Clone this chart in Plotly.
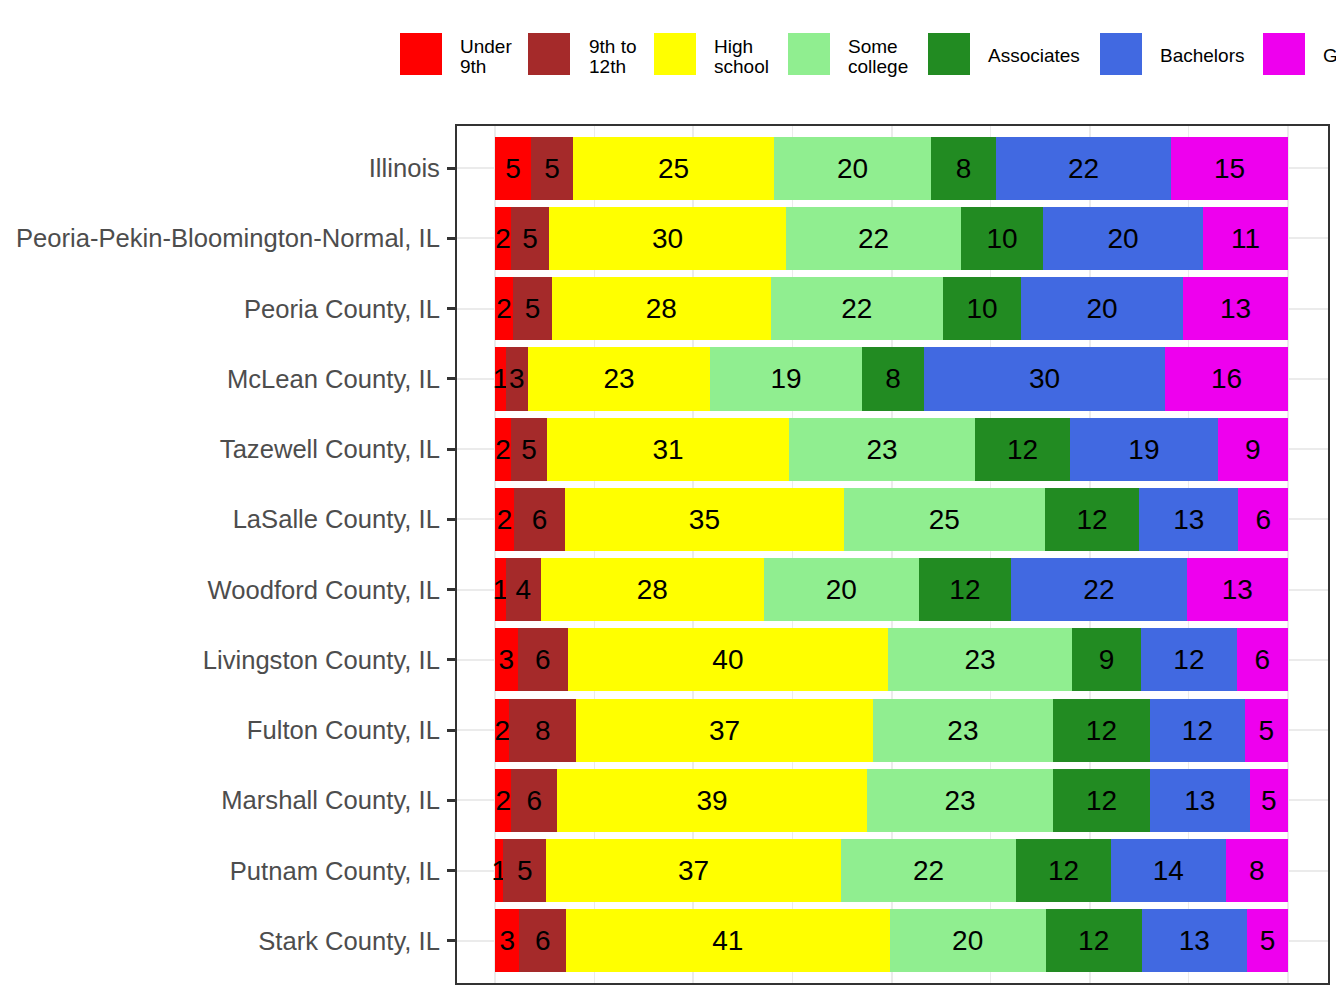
import plotly.graph_objects as go

# share of adults 25+ by highest education level (percent)
regions = [
    "Illinois",
    "Peoria-Pekin-Bloomington-Normal, IL",
    "Peoria County, IL",
    "McLean County, IL",
    "Tazewell County, IL",
    "LaSalle County, IL",
    "Woodford County, IL",
    "Livingston County, IL",
    "Fulton County, IL",
    "Marshall County, IL",
    "Putnam County, IL",
    "Stark County, IL",
]

under_9th = [4.54, 2.02, 2.27, 1.35, 2.02, 2.40, 1.35, 2.86, 1.80, 2.06, 1.05, 3.06]
ninth_12th = [5.30, 4.79, 4.92, 2.81, 4.54, 6.43, 4.45, 6.31, 8.41, 5.76, 5.38, 5.89]
high_school = [25.35, 29.89, 27.55, 22.95, 30.52, 35.14, 28.08, 40.39, 37.45, 39.09, 37.20, 40.82]
some_college = [19.80, 22.07, 21.76, 19.17, 23.46, 25.39, 19.58, 23.20, 22.70, 23.46, 22.07, 19.67]
associates = [8.20, 10.34, 9.84, 7.82, 11.98, 11.85, 11.60, 8.70, 12.23, 12.23, 11.98, 12.11]
bachelors = [22.07, 20.18, 20.43, 30.39, 18.63, 12.55, 22.19, 12.10, 11.98, 12.57, 14.46, 13.28]
graduate = [14.75, 10.72, 13.24, 15.51, 8.83, 6.25, 12.74, 6.43, 5.42, 4.83, 7.86, 5.17]

levels = ["Under\n9th", "9th to\n12th", "High\nschool", "Some\ncollege",
          "Associates", "Bachelors", "Graduate"]
series = [under_9th, ninth_12th, high_school, some_college, associates, bachelors, graduate]
colors = ["#FF0000", "#A52A2A", "#FFFF00", "#90EE90", "#228B22", "#4169E1", "#EE00EE"]

FONT = "Arial, Liberation Sans, sans-serif"
W, H = 1344, 1008
OFF = 8  # default body margin of the html page
# plot area in page pixels
PX0, PX1, PY0, PY1 = 457, 1328, 126, 983

fig = go.Figure()
for name, vals, col in zip(levels, series, colors):
    fig.add_bar(
        y=regions, x=vals, orientation="h", name=name.replace("\n", " "),
        marker=dict(color=col, line=dict(width=0)),
        texttemplate="%{x:.0f}", textposition="inside", insidetextanchor="middle",
        textangle=0, constraintext="none",
        insidetextfont=dict(family=FONT, size=28, color="black"),
        cliponaxis=False, showlegend=False, hoverinfo="skip",
    )


def px2paper(px, py):
    # page pixel -> paper fraction of the plot area
    return (px - PX0) / (PX1 - PX0), (PY1 - py) / (PY1 - PY0)


# hand drawn legend across the top (ggplot style big keys)
key_x = [400, 528, 654, 788, 928, 1100, 1263]
text_x = [458, 587, 712, 846, 986, 1158, 1321]
shapes = []
annotations = []
for kx, tx, name, col in zip(key_x, text_x, levels, colors):
    x0, y0 = px2paper(kx, 75)
    x1, y1 = px2paper(kx + 42, 33)
    shapes.append(dict(type="rect", xref="paper", yref="paper", x0=x0, x1=x1,
                       y0=y0, y1=y1, fillcolor=col, line=dict(width=0)))
    lines = name.split("\n")
    if len(lines) == 1:
        ys = [56]
    else:
        ys = [46, 66]
    for line, ty in zip(lines, ys):
        ax, ay = px2paper(tx, ty)
        annotations.append(dict(text=line, xref="paper", yref="paper", x=ax, y=ay,
                                xanchor="left", yanchor="middle", showarrow=False,
                                font=dict(family=FONT, size=19, color="black")))

fig.update_layout(
    width=W, height=H,
    margin=dict(l=PX0 - OFF, r=W - (PX1 - OFF), t=PY0 - OFF, b=H - (PY1 - OFF), pad=0),
    barmode="stack", bargap=0.1,
    plot_bgcolor="white", paper_bgcolor="white",
    font=dict(family=FONT),
    shapes=shapes, annotations=annotations,
    xaxis=dict(
        range=[-4.8, 105.05], tickvals=[0, 25, 50, 75, 100], showticklabels=False, ticks="",
        showgrid=True, gridcolor="#EBEBEB", gridwidth=2, zeroline=False,
        minor=dict(tickvals=[12.5, 37.5, 62.5, 87.5], showgrid=True,
                   gridcolor="#EBEBEB", gridwidth=1.2, ticks=""),
        showline=True, mirror=True, linecolor="#333333", linewidth=2,
    ),
    yaxis=dict(
        type="category", categoryorder="array", categoryarray=regions[::-1],
        range=[-0.6, len(regions) - 0.4],
        showgrid=True, gridcolor="#EBEBEB", gridwidth=2,
        ticks="outside", ticklen=8, tickwidth=2.5, tickcolor="#333333",
        ticklabelstandoff=2,
        tickfont=dict(family=FONT, size=25.6, color="#4D4D4D"),
        showline=True, mirror=True, linecolor="#333333", linewidth=2,
        automargin=False,
    ),
)

fig.write_html("out.html", config={"displayModeBar": False})
